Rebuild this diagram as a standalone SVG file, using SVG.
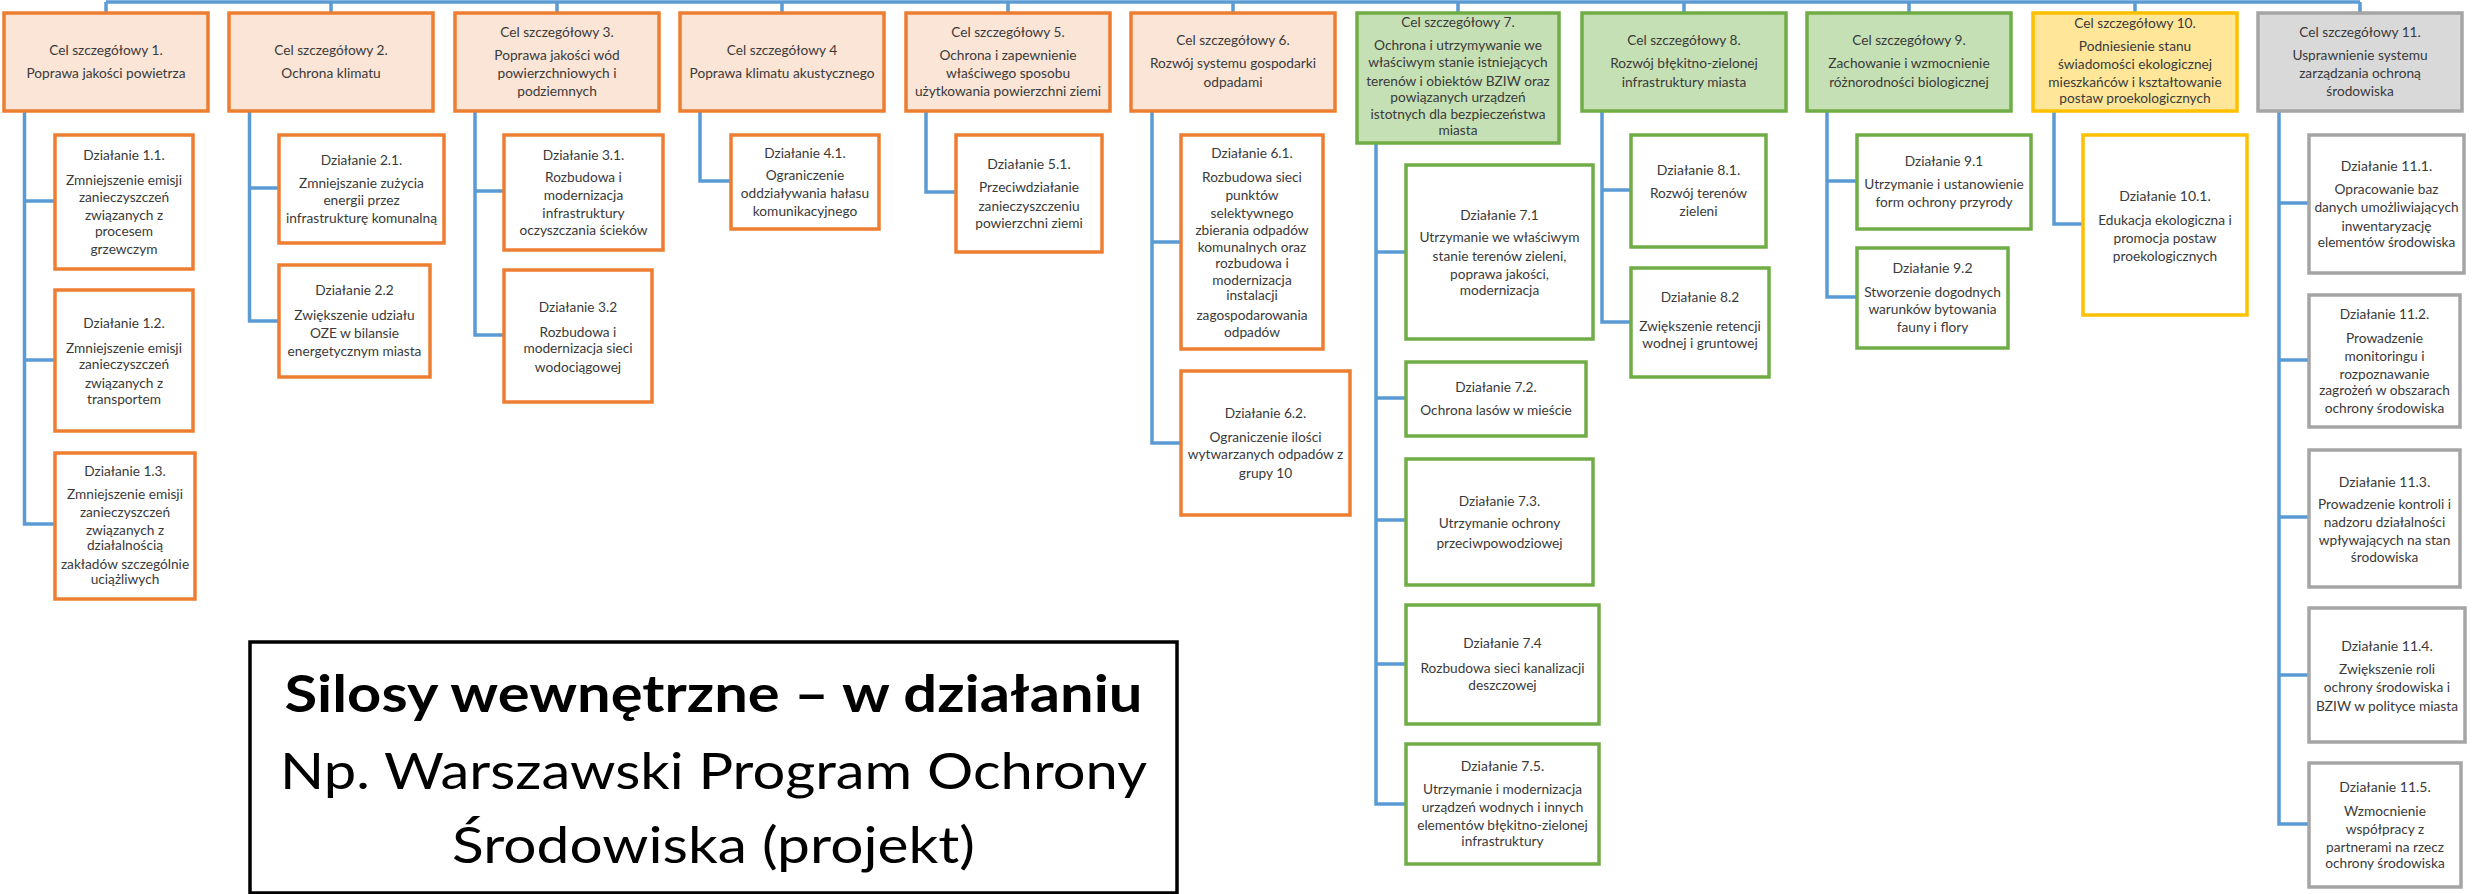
<svg xmlns="http://www.w3.org/2000/svg" width="2483" height="894" viewBox="0 0 2483 894">
<defs>
<style>
text{font-family:Lato,"Open Sans","Liberation Sans",sans-serif;font-size:13.7px;fill:#3a3a3a;text-anchor:middle}
.t{font-size:14px}
.ho{fill:#FBE5D6;stroke:#ED7D31;stroke-width:3.5}
.hg{fill:#C5E0B4;stroke:#70AD47;stroke-width:3.5}
.hy{fill:#FFE699;stroke:#FFC000;stroke-width:3.5}
.hs{fill:#D9D9D9;stroke:#A5A5A5;stroke-width:3.5}
.bo{fill:#fff;stroke:#ED7D31;stroke-width:3.5}
.bg{fill:#fff;stroke:#70AD47;stroke-width:3.5}
.by{fill:#fff;stroke:#FFC000;stroke-width:3.5}
.bs{fill:#fff;stroke:#A5A5A5;stroke-width:3.5}
.c path{fill:none;stroke:#5B9BD5;stroke-width:3.5}
.big{font-size:51px;fill:#000}
</style>
</defs>
<rect width="2483" height="894" fill="#fff"/>

<g class="c" id="connectors">
<path d="M106,2 H2360 M106,2 V13 M331,2 V13 M557,2 V13 M782,2 V13 M1008,2 V13 M1233,2 V13 M1458,2 V13 M1684,2 V13 M1909,2 V13 M2135,2 V13 M2360,2 V13"/>
<path d="M24.5,111 V524 H55 M24.5,201 H55 M24.5,360 H55"/>
<path d="M249.5,111 V321 H279 M249.5,188 H279"/>
<path d="M475,111 V335 H504 M475,191 H504"/>
<path d="M700,111 V181 H731"/>
<path d="M926,111 V192 H956"/>
<path d="M1152,111 V443 H1181 M1152,242 H1181"/>
<path d="M1376,143 V804 H1406 M1376,252 H1406 M1376,398 H1406 M1376,520 H1406 M1376,664 H1406"/>
<path d="M1602,111 V322 H1631 M1602,190 H1631"/>
<path d="M1827,111 V297 H1857 M1827,181 H1857"/>
<path d="M2054,111 V224 H2083"/>
<path d="M2279,111 V824 H2309 M2279,203 H2309 M2279,360 H2309 M2279,517 H2309 M2279,675 H2309"/>
</g>

<g id="cel1"><rect class="ho" x="4" y="13" width="204" height="98"/><text x="106" y="54.5">Cel szczegółowy 1.</text><text x="106" y="77.5">Poprawa jakości powietrza</text></g>
<g id="cel2"><rect class="ho" x="229" y="13" width="204" height="98"/><text x="331" y="54.5">Cel szczegółowy 2.</text><text x="331" y="77.5">Ochrona klimatu</text></g>
<g id="cel3"><rect class="ho" x="455" y="13" width="204" height="98"/><text x="557" y="36.5">Cel szczegółowy 3.</text><text x="557" y="59.5">Poprawa jakości wód</text><text x="557" y="77.5">powierzchniowych i</text><text x="557" y="95.5">podziemnych</text></g>
<g id="cel4"><rect class="ho" x="680" y="13" width="204" height="98"/><text x="782" y="54.5">Cel szczegółowy 4</text><text x="782" y="77.5">Poprawa klimatu akustycznego</text></g>
<g id="cel5"><rect class="ho" x="906" y="13" width="204" height="98"/><text x="1008" y="36.5">Cel szczegółowy 5.</text><text x="1008" y="59.5">Ochrona i zapewnienie</text><text x="1008" y="77.5">właściwego sposobu</text><text x="1008" y="95.5">użytkowania powierzchni ziemi</text></g>
<g id="cel6"><rect class="ho" x="1131" y="13" width="204" height="98"/><text x="1233" y="44.5">Cel szczegółowy 6.</text><text x="1233" y="67.5">Rozwój systemu gospodarki</text><text x="1233" y="86.5">odpadami</text></g>
<g id="cel7"><rect class="hg" x="1357" y="13" width="202" height="130"/><text x="1458" y="26.5">Cel szczegółowy 7.</text><text x="1458" y="49.5">Ochrona i utrzymywanie we</text><text x="1458" y="66.5">właściwym stanie istniejących</text><text x="1458" y="85.5">terenów i obiektów BZIW oraz</text><text x="1458" y="101.5">powiązanych urządzeń</text><text x="1458" y="118.5">istotnych dla bezpieczeństwa</text><text x="1458" y="134.5">miasta</text></g>
<g id="cel8"><rect class="hg" x="1582" y="13" width="204" height="98"/><text x="1684" y="44.5">Cel szczegółowy 8.</text><text x="1684" y="67.5">Rozwój błękitno-zielonej</text><text x="1684" y="86.5">infrastruktury miasta</text></g>
<g id="cel9"><rect class="hg" x="1807" y="13" width="204" height="98"/><text x="1909" y="44.5">Cel szczegółowy 9.</text><text x="1909" y="67.5">Zachowanie i wzmocnienie</text><text x="1909" y="86.5">różnorodności biologicznej</text></g>
<g id="cel10"><rect class="hy" x="2033" y="13" width="204" height="98"/><text x="2135" y="27.5">Cel szczegółowy 10.</text><text x="2135" y="50.5">Podniesienie stanu</text><text x="2135" y="68.5">świadomości ekologicznej</text><text x="2135" y="86.5">mieszkańców i kształtowanie</text><text x="2135" y="102.5">postaw proekologicznych</text></g>
<g id="cel11"><rect class="hs" x="2258" y="13" width="204" height="98"/><text x="2360" y="36.5">Cel szczegółowy 11.</text><text x="2360" y="59.5">Usprawnienie systemu</text><text x="2360" y="77.5">zarządzania ochroną</text><text x="2360" y="95.5">środowiska</text></g>

<g id="d1_1"><rect class="bo" x="55" y="135" width="138" height="134"/><text x="124" y="159.5">Działanie 1.1.</text><text x="124" y="184.5">Zmniejszenie emisji</text><text x="124" y="201.5">zanieczyszczeń</text><text x="124" y="219.5">związanych z</text><text x="124" y="235.5">procesem</text><text x="124" y="253.5">grzewczym</text></g>
<g id="d1_2"><rect class="bo" x="55" y="290" width="138" height="141"/><text x="124" y="327.5">Działanie 1.2.</text><text x="124" y="352.5">Zmniejszenie emisji</text><text x="124" y="368.5">zanieczyszczeń</text><text x="124" y="387.5">związanych z</text><text x="124" y="403.5">transportem</text></g>
<g id="d1_3"><rect class="bo" x="55" y="453" width="140" height="146"/><text x="125" y="475.5">Działanie 1.3.</text><text x="125" y="498.5">Zmniejszenie emisji</text><text x="125" y="516.5">zanieczyszczeń</text><text x="125" y="534.5">związanych z</text><text x="125" y="549.5">działalnością</text><text x="125" y="568.5">zakładów szczególnie</text><text x="125" y="583.5">uciążliwych</text></g>
<g id="d2_1"><rect class="bo" x="279" y="135" width="165" height="108"/><text x="361.5" y="164.5">Działanie 2.1.</text><text x="361.5" y="187.5">Zmniejszanie zużycia</text><text x="361.5" y="204.5">energii przez</text><text x="361.5" y="222.5">infrastrukturę komunalną</text></g>
<g id="d2_2"><rect class="bo" x="279" y="265" width="151" height="112"/><text x="354.5" y="294.5">Działanie 2.2</text><text x="354.5" y="319.5">Zwiększenie udziału</text><text x="354.5" y="337.5">OZE w bilansie</text><text x="354.5" y="355.5">energetycznym  miasta</text></g>
<g id="d3_1"><rect class="bo" x="504" y="135" width="159" height="115"/><text x="583.5" y="159.5">Działanie 3.1.</text><text x="583.5" y="181.5">Rozbudowa i</text><text x="583.5" y="199.5">modernizacja</text><text x="583.5" y="217.5">infrastruktury</text><text x="583.5" y="234.5">oczyszczania ścieków</text></g>
<g id="d3_2"><rect class="bo" x="504" y="270" width="148" height="132"/><text x="578" y="311.5">Działanie 3.2</text><text x="578" y="336.5">Rozbudowa i</text><text x="578" y="352.5">modernizacja sieci</text><text x="578" y="371.5">wodociągowej</text></g>
<g id="d4_1"><rect class="bo" x="731" y="135" width="148" height="94"/><text x="805" y="157.5">Działanie 4.1.</text><text x="805" y="179.5">Ograniczenie</text><text x="805" y="197.5">oddziaływania hałasu</text><text x="805" y="215.5">komunikacyjnego</text></g>
<g id="d5_1"><rect class="bo" x="956" y="135" width="146" height="117"/><text x="1029" y="168.5" class="t">Działanie 5.1.</text><text x="1029" y="191.5">Przeciwdziałanie</text><text x="1029" y="210.5">zanieczyszczeniu</text><text x="1029" y="227.5">powierzchni ziemi</text></g>
<g id="d6_1"><rect class="bo" x="1181" y="135" width="142" height="214"/><text x="1252" y="157.5">Działanie 6.1.</text><text x="1252" y="181.5">Rozbudowa sieci</text><text x="1252" y="199.5">punktów</text><text x="1252" y="217.5">selektywnego</text><text x="1252" y="234.5">zbierania odpadów</text><text x="1252" y="251.5">komunalnych oraz</text><text x="1252" y="267.5">rozbudowa  i</text><text x="1252" y="284.5">modernizacja</text><text x="1252" y="299.5">instalacji</text><text x="1252" y="319.5">zagospodarowania</text><text x="1252" y="336.5">odpadów</text></g>
<g id="d6_2"><rect class="bo" x="1181" y="371" width="169" height="144"/><text x="1265.5" y="417.5">Działanie 6.2.</text><text x="1265.5" y="441.5">Ograniczenie ilości</text><text x="1265.5" y="458.5">wytwarzanych odpadów z</text><text x="1265.5" y="477.5">grupy 10</text></g>
<g id="d7_1"><rect class="bg" x="1406" y="165" width="187" height="174"/><text x="1499.5" y="219.5">Działanie 7.1</text><text x="1499.5" y="241.5">Utrzymanie we właściwym</text><text x="1499.5" y="260.5">stanie terenów zieleni,</text><text x="1499.5" y="278.5">poprawa jakości,</text><text x="1499.5" y="294.5">modernizacja</text></g>
<g id="d7_2"><rect class="bg" x="1406" y="362" width="180" height="74"/><text x="1496" y="391.5">Działanie 7.2.</text><text x="1496" y="414.5">Ochrona lasów w mieście</text></g>
<g id="d7_3"><rect class="bg" x="1406" y="459" width="187" height="126"/><text x="1499.5" y="505.5">Działanie 7.3.</text><text x="1499.5" y="527.5">Utrzymanie ochrony</text><text x="1499.5" y="547.5">przeciwpowodziowej</text></g>
<g id="d7_4"><rect class="bg" x="1406" y="605" width="193" height="119"/><text x="1502.5" y="647.5">Działanie 7.4</text><text x="1502.5" y="672.5">Rozbudowa sieci kanalizacji</text><text x="1502.5" y="689.5">deszczowej</text></g>
<g id="d7_5"><rect class="bg" x="1406" y="744" width="193" height="120"/><text x="1502.5" y="770.5" class="t">Działanie 7.5.</text><text x="1502.5" y="793.5">Utrzymanie i modernizacja</text><text x="1502.5" y="811.5">urządzeń wodnych i innych</text><text x="1502.5" y="829.5">elementów błękitno-zielonej</text><text x="1502.5" y="845.5">infrastruktury</text></g>
<g id="d8_1"><rect class="bg" x="1631" y="135" width="135" height="112"/><text x="1698.5" y="174.5" class="t">Działanie 8.1.</text><text x="1698.5" y="197.5">Rozwój terenów</text><text x="1698.5" y="215.5">zieleni</text></g>
<g id="d8_2"><rect class="bg" x="1631" y="268" width="138" height="109"/><text x="1700" y="301.5">Działanie 8.2</text><text x="1700" y="330.5">Zwiększenie retencji</text><text x="1700" y="347.5">wodnej i gruntowej</text></g>
<g id="d9_1"><rect class="bg" x="1857" y="135" width="174" height="94"/><text x="1944" y="165.5">Działanie 9.1</text><text x="1944" y="188.5">Utrzymanie i ustanowienie</text><text x="1944" y="206.5">form ochrony przyrody</text></g>
<g id="d9_2"><rect class="bg" x="1857" y="248" width="151" height="100"/><text x="1932.5" y="272.5" class="t">Działanie 9.2</text><text x="1932.5" y="296.5">Stworzenie dogodnych</text><text x="1932.5" y="313.5">warunków bytowania</text><text x="1932.5" y="331.5">fauny i flory</text></g>
<g id="d10_1"><rect class="by" x="2083" y="135" width="164" height="180"/><text x="2165" y="200.5" class="t">Działanie 10.1.</text><text x="2165" y="224.5">Edukacja ekologiczna i</text><text x="2165" y="242.5">promocja postaw</text><text x="2165" y="260.5">proekologicznych</text></g>
<g id="d11_1"><rect class="bs" x="2309" y="135" width="155" height="138"/><text x="2386.5" y="170.5" class="t">Działanie 11.1.</text><text x="2386.5" y="193.5">Opracowanie baz</text><text x="2386.5" y="211.5">danych umożliwiających</text><text x="2386.5" y="230.5">inwentaryzację</text><text x="2386.5" y="246.5">elementów środowiska</text></g>
<g id="d11_2"><rect class="bs" x="2309" y="295" width="151" height="132"/><text x="2384.5" y="318.5">Działanie 11.2.</text><text x="2384.5" y="342.5">Prowadzenie</text><text x="2384.5" y="360.5">monitoringu  i</text><text x="2384.5" y="378.5">rozpoznawanie</text><text x="2384.5" y="394.5">zagrożeń w obszarach</text><text x="2384.5" y="412.5">ochrony środowiska</text></g>
<g id="d11_3"><rect class="bs" x="2309" y="450" width="151" height="137"/><text x="2384.5" y="486.5" class="t">Działanie 11.3.</text><text x="2384.5" y="508.5">Prowadzenie kontroli i</text><text x="2384.5" y="526.5">nadzoru działalności</text><text x="2384.5" y="544.5">wpływających na stan</text><text x="2384.5" y="561.5">środowiska</text></g>
<g id="d11_4"><rect class="bs" x="2309" y="608" width="156" height="134"/><text x="2387" y="650.5" class="t">Działanie 11.4.</text><text x="2387" y="673.5">Zwiększenie roli</text><text x="2387" y="691.5">ochrony środowiska i</text><text x="2387" y="710.5">BZIW w polityce miasta</text></g>
<g id="d11_5"><rect class="bs" x="2309" y="763" width="152" height="124"/><text x="2385" y="791.5" class="t">Działanie 11.5.</text><text x="2385" y="815.5">Wzmocnienie</text><text x="2385" y="833.5">współpracy z</text><text x="2385" y="851.5">partnerami na rzecz</text><text x="2385" y="867.5">ochrony środowiska</text></g>

<g id="title">
<rect x="250" y="642" width="927" height="251" fill="#fff" stroke="#000" stroke-width="3.5"/>
<text class="big" x="713.5" y="712" font-weight="bold" textLength="858" lengthAdjust="spacingAndGlyphs">Silosy wewnętrzne – w działaniu</text>
<text class="big" x="713.5" y="789" textLength="867" lengthAdjust="spacingAndGlyphs">Np. Warszawski Program Ochrony</text>
<text class="big" x="713.5" y="863" textLength="523" lengthAdjust="spacingAndGlyphs">Środowiska (projekt)</text>
</g>
</svg>
